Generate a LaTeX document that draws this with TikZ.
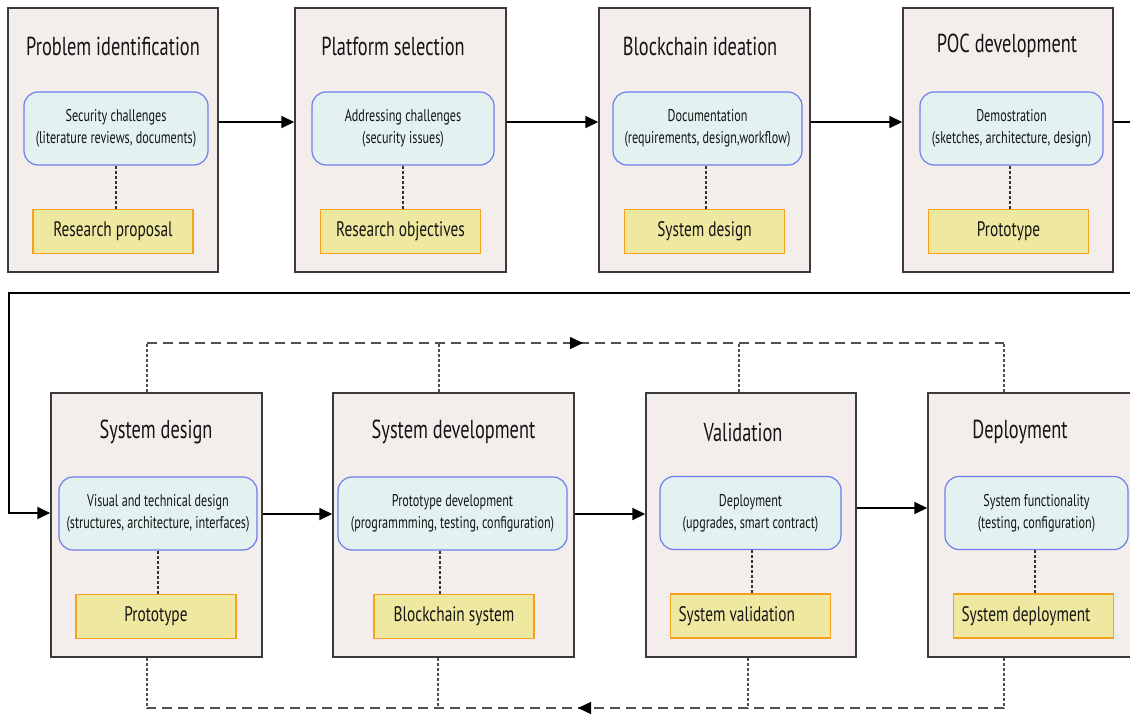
\documentclass[tikz,border=0pt]{standalone}
\usepackage{fontspec}
\setmainfont{PT Sans}[FakeStretch=0.76]
\newfontfamily\titlefont{PT Sans}[FakeStretch=0.706]
\newfontfamily\taskfont{PT Sans}[FakeStretch=0.715]
\newfontfamily\outfont{PT Sans}[FakeStretch=0.73]
\usetikzlibrary{arrows.meta,calc}

\definecolor{stagefill}{HTML}{F3EDEB}
\definecolor{stageline}{HTML}{3A3A3A}
\definecolor{taskfill}{HTML}{E3F2F1}
\definecolor{taskline}{HTML}{6E7DEB}
\definecolor{outfill}{HTML}{EFE8A0}
\definecolor{outcomeline}{HTML}{F5A020}
\definecolor{loopgray}{HTML}{505050}
\definecolor{ink}{HTML}{141414}

\tikzset{
  stage/.style={draw=stageline, line width=1.5pt, fill=stagefill,
    minimum width=#1, minimum height=264pt, inner sep=0pt},
  stage/.default=210pt,
  title/.style={font=\titlefont\fontsize{26}{30}\selectfont, text=ink, inner sep=0pt},
  task/.style={draw=taskline, line width=1.2pt, fill=taskfill, rounded corners=14pt,
    minimum width=#1, minimum height=73pt, align=center, inner sep=0pt,
    font=\taskfont\fontsize{17}{22}\selectfont, text=ink},
  outcome/.style={draw=outcomeline, line width=1.3pt, fill=outfill,
    minimum width=160pt, minimum height=44pt, inner sep=0pt,
    font=\outfont\fontsize{21}{24}\selectfont, text=ink},
  link/.style={draw=black!80, line width=1.1pt, dash pattern=on 3pt off 2pt},
  flow/.style={draw=black, line width=2pt, -{Triangle[length=13pt,width=12pt]}},
  loopline/.style={draw=loopgray, line width=1.4pt, dash pattern=on 10pt off 6pt},
  riser/.style={draw=loopgray, line width=1.2pt, dash pattern=on 3pt off 2pt},
  looptip/.style={draw=black, line width=1.4pt, -{Triangle[length=13pt,width=12pt]}},
}
% left-set label inside an outcome box
\newcommand{\leftset}[1]{\makebox[144pt][l]{#1}}

\begin{document}
\begin{tikzpicture}[x=1pt, y=-1pt]
\useasboundingbox (0,0) rectangle (1130,716);
\clip (0,0) rectangle (1130,716);

% ---------- first row ----------
\node[stage=210pt] (s1) at (113,140) {};
\node[title] (h1) at (113,46) {Problem identification};
\node[task=184pt] (k1) at (116,128.5) {Security challenges\\(literature reviews, documents)};
\node[outcome] (o1) at (113,231.5) {Research proposal};
\draw[link] (k1.south) -- (k1.south |- o1.north);

\node[stage=211pt] (s2) at (400.5,140) {};
\node[title] (h2) at (393,46) {Platform selection};
\node[task=182pt] (k2) at (403,128.5) {Addressing challenges\\(security issues)};
\node[outcome] (o2) at (400.5,231.5) {Research objectives};
\draw[link] (k2.south) -- (k2.south |- o2.north);

\node[stage=211pt] (s3) at (704.5,140) {};
\node[title] (h3) at (700,46) {Blockchain ideation};
\node[task=189pt] (k3) at (707.5,128.5) {Documentation\\(requirements, design,workflow)};
\node[outcome] (o3) at (704.5,231.5) {System design};
\coordinate (l3) at (706,0);
\draw[link] (k3.south -| l3) -- (o3.north -| l3);

\node[stage=210pt] (s4) at (1008,140) {};
\node[title] (h4) at (1007,46) {POC development};
\node[task=183pt] (k4) at (1011.5,128.5) {Demostration\\(sketches, architecture, design)};
\node[outcome] (o4) at (1008.5,231.5) {Prototype};
\coordinate (l4) at (1010,0);
\draw[link] (k4.south -| l4) -- (o4.north -| l4);

% ---------- second row ----------
\node[stage=211pt] (s5) at (156.5,525) {};
\node[title] (h5) at (156,432) {System design};
\node[task=198pt] (k5) at (158,513.5) {Visual and technical design\\(structures, architecture, interfaces)};
\node[outcome] (o5) at (156,616.5) {Prototype};
\coordinate (l5) at (158,0);
\draw[link] (k5.south -| l5) -- (o5.north -| l5);

\node[stage=241pt] (s6) at (453.5,525) {};
\node[title] (h6) at (453.5,432) {System development};
\node[task=229pt] (k6) at (452.5,513.5) {Prototype development\\(programmming, testing, configuration)};
\node[outcome] (o6) at (454,616.5) {Blockchain system};
\coordinate (l6) at (440,0);
\draw[link] (k6.south -| l6) -- (o6.north -| l6);

\node[stage=210pt] (s7) at (751,525) {};
\node[title] (h7) at (743,432) {Validation};
\node[task=181pt] (k7) at (750.5,513) {Deployment\\(upgrades, smart contract)};
\node[outcome] (o7) at (750.5,616) {\leftset{System validation}};
\coordinate (l7) at (752,0);
\draw[link] (k7.south -| l7) -- (o7.north -| l7);

\node[stage=214pt] (s8) at (1035,525) {};
\node[title] (h8) at (1020,432) {Deployment};
\node[task=183pt] (k8) at (1036.5,513) {System functionality\\(testing, configuration)};
\node[outcome] (o8) at (1033.5,616) {\leftset{System deployment}};
\coordinate (l8) at (1035,0);
\draw[link] (k8.south -| l8) -- (o8.north -| l8);

% ---------- main flow ----------
\draw[flow] ([yshift=18pt]s1.east) -- ([yshift=18pt]s2.west);
\draw[flow] ([yshift=18pt]s2.east) -- ([yshift=18pt]s3.west);
\draw[flow] ([yshift=18pt]s3.east) -- ([yshift=18pt]s4.west);

\coordinate (c1) at (1160,122);
\coordinate (c2) at (1160,293);
\coordinate (c3) at (9,293);
\coordinate (c4) at (9,513);
\draw[flow] ([yshift=18pt]s4.east) -- (c1) -- (c2) -- (c3) -- (c4) -- (s5.west |- c4);

\draw[flow] ([yshift=11pt]s5.east) -- ([yshift=11pt]s6.west);
\draw[flow] ([yshift=11pt]s6.east) -- ([yshift=11pt]s7.west);
\draw[flow] ([yshift=17pt]s7.east) -- ([yshift=17pt]s8.west);

% ---------- iteration loops ----------
\coordinate (t5) at (147,343);
\coordinate (t6) at (439,343);
\coordinate (t7) at (739,343);
\coordinate (t8) at (1004,343);
\coordinate (b5) at (147,708);
\coordinate (b6) at (438,708);
\coordinate (b7) at (748,708);
\coordinate (b8) at (1004,708);

\draw[riser] (s5.north -| t5) -- (t5);
\draw[riser] (s6.north -| t6) -- (t6);
\draw[riser] (s7.north -| t7) -- (t7);
\draw[riser] (s8.north -| t8) -- (t8);
\draw[loopline] (t5) -- (t8);

\draw[riser] (s5.south -| b5) -- (b5);
\draw[riser] (s6.south -| b6) -- (b6);
\draw[riser] (s7.south -| b7) -- (b7);
\draw[riser] (s8.south -| b8) -- (b8);
\draw[loopline] (b8) -- (b5);

\coordinate (ta) at (583,343);
\coordinate (tb) at (578,708);
\draw[looptip] ([xshift=-3pt]ta) -- (ta);
\draw[looptip] ([xshift=3pt]tb) -- (tb);
\end{tikzpicture}
\end{document}
